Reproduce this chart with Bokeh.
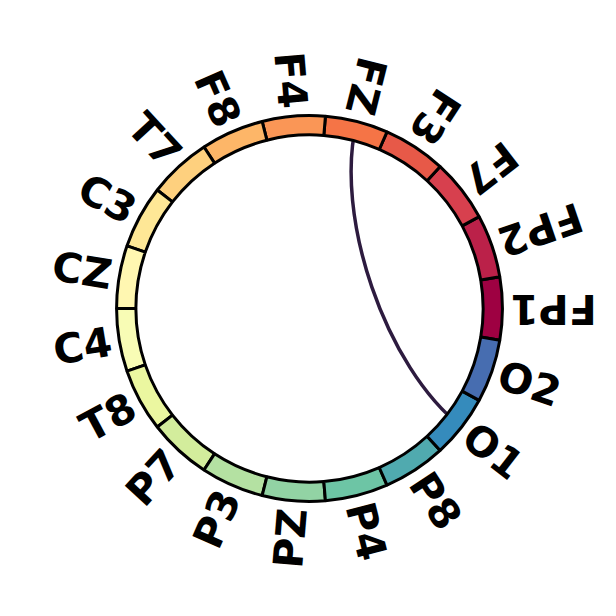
import numpy as np
from bokeh.plotting import figure
from bokeh.models import Range1d
from bokeh.core.properties import value
from bokeh.embed import file_html
from bokeh.resources import INLINE

# ---- data ----
node_names = ["FP1", "FP2", "F7", "F3", "FZ", "F4", "F8", "T7", "C3", "CZ",
              "C4", "T8", "P7", "P3", "PZ", "P4", "P8", "O1", "O2"]
con_from = ["FZ"]
con_to = ["O1"]
con_color = "#2d1b3f"

spectral_anchors = ["#9e0142", "#d53e4f", "#f46d43", "#fdae61", "#fee08b", "#ffffbf",
                    "#e6f598", "#abdda4", "#66c2a5", "#3288bd", "#5e4fa2"]


def hex2rgb(h):
    return np.array([int(h[i:i + 2], 16) for i in (1, 3, 5)], dtype=float)


def spectral(t):
    n = len(spectral_anchors) - 1
    pos = t * n
    i = min(int(np.floor(pos)), n - 1)
    f = pos - i
    c = hex2rgb(spectral_anchors[i]) * (1 - f) + hex2rgb(spectral_anchors[i + 1]) * f
    return "#%02x%02x%02x" % tuple(int(round(v)) for v in c)


n = len(node_names)
angles = np.arange(n) * 2 * np.pi / n
width = 2 * np.pi / n
colors = [spectral(i / n) for i in range(n)]

s = 600 / 31.1  # pixels per unit
p = figure(width=600, height=600, output_backend="svg", toolbar_location=None,
           x_range=Range1d(-309 / s, 291 / s), y_range=Range1d(-292 / s, 308 / s),
           min_border=0, outline_line_color=None)
p.axis.visible = False
p.grid.visible = False
p.background_fill_color = "white"
p.border_fill_color = "white"

# connections (drawn beneath ring)
for a_name, b_name in zip(con_from, con_to):
    t0 = angles[node_names.index(a_name)]
    t1 = angles[node_names.index(b_name)]
    p.bezier(x0=[10 * np.cos(t0)], y0=[10 * np.sin(t0)],
             x1=[10 * np.cos(t1)], y1=[10 * np.sin(t1)],
             cx0=[5 * np.cos(t0)], cy0=[5 * np.sin(t0)],
             cx1=[5 * np.cos(t1)], cy1=[5 * np.sin(t1)],
             line_color=con_color, line_width=3.5)

# ring
p.annular_wedge(x=[0] * n, y=[0] * n, inner_radius=9, outer_radius=10,
                start_angle=list(angles - width / 2), end_angle=list(angles + width / 2),
                fill_color=colors, line_color="black", line_width=3)

# labels
for name, a in zip(node_names, angles):
    deg = np.degrees(a)
    if deg >= 270:
        rot = a
        align = "left"
    else:
        rot = a + np.pi
        align = "right"
    p.text(x=[10.4 * np.cos(a)], y=[10.4 * np.sin(a)], text=[name], angle=rot,
           text_align=align, text_baseline="middle",
           text_font=value("DejaVu Sans"), text_font_style="bold",
           text_font_size="41px", text_color="black")

open("out.html", "w").write(file_html(p, INLINE))
